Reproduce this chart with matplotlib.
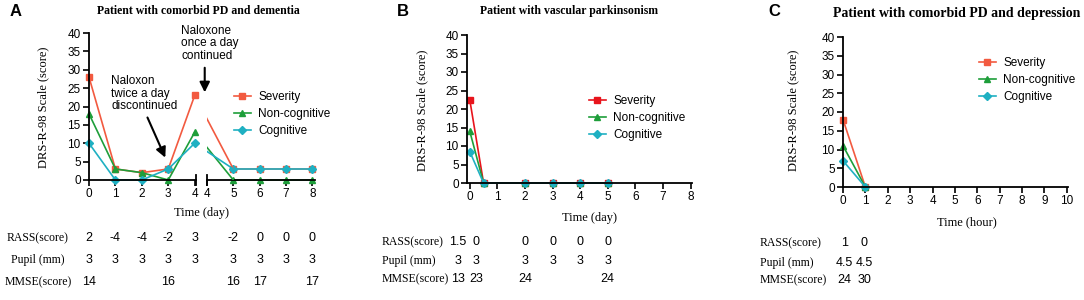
import matplotlib
matplotlib.use('Agg')
import matplotlib.pyplot as plt
import matplotlib.transforms as mtransforms
from matplotlib.patches import ConnectionPatch

# data
days_a = [0, 1, 2, 3, 4, 5, 6, 7, 8]
sev_a = [28, 3, 2, 3, 23, 3, 3, 3, 3]
noncog_a = [18, 3, 2, 0, 13, 0, 0, 0, 0]
cog_a = [10, 0, 0, 3, 10, 3, 3, 3, 3]
rass_a = ['2', '-4', '-4', '-2', '3', '-2', '0', '0', '0']
pupil_a = ['3', '3', '3', '3', '3', '3', '3', '3', '3']
mmse_a = ['14', '', '', '16', '', '16', '17', '', '17']

days_b = [0, 0.5, 2, 3, 4, 5]
sev_b = [22.5, 0, 0, 0, 0, 0]
noncog_b = [14, 0, 0, 0, 0, 0]
cog_b = [8.5, 0, 0, 0, 0, 0]
rass_b = ['1.5', '0', '0', '0', '0', '0']
pupil_b = ['3', '3', '3', '3', '3', '3']
mmse_b = ['13', '23', '24', '', '', '24']

hours_c = [0, 1]
sev_c = [18, 0]
noncog_c = [11, 0]
cog_c = [7, 0]
rass_c = ['1', '0']
pupil_c = ['4.5', '4.5']
mmse_c = ['24', '30']

row_labels = ['RASS(score)', 'Pupil (mm)', 'MMSE(score)']

W, H = 1084, 300
fig = plt.figure(figsize=(W / 100, H / 100), dpi=100)

SANS = 'Liberation Sans'
SERIF = 'Liberation Serif'
RED = '#F25A40'
RED_B = '#E8141C'
GREEN = '#1E9E3A'
TEAL = '#1FB0C2'


def add_ax(l, r, t, b):
    return fig.add_axes([l / W, 1 - b / H, (r - l) / W, (b - t) / H])


def style(ax, left=True):
    for s in ['top', 'right']:
        ax.spines[s].set_visible(False)
    ax.spines['left'].set_visible(left)
    ax.spines['left'].set_linewidth(1.3)
    ax.spines['bottom'].set_linewidth(1.3)
    ax.tick_params(direction='out', length=4, width=1.2, pad=2,
                   labelsize=8.5, labelfontfamily=SANS)
    ax.set_ylim(0, 40)
    ax.set_yticks(range(0, 41, 5))
    if not left:
        ax.set_yticks([])
    ax.patch.set_alpha(0)


def plot3(ax, x, s, n, c, sev_color=RED):
    ax.plot(x, s, color=sev_color, marker='s', ms=5, lw=1.2, clip_on=False,
            label='Severity')
    ax.plot(x, n, color=GREEN, marker='^', ms=5, lw=1.2, clip_on=False,
            label='Non-cognitive')
    ax.plot(x, c, color=TEAL, marker='D', ms=4.5, lw=1.2, clip_on=False,
            label='Cognitive')


def ftext(x, y, s, **kw):
    fig.text(x / W, 1 - y / H, s, **kw)


def table(ax, xs, y, vals):
    tr = mtransforms.blended_transform_factory(ax.transData, fig.transFigure)
    for xv, v in zip(xs, vals):
        if v:
            ax.text(xv, 1 - y / H, v, transform=tr, ha='center', va='center',
                    fontsize=9, family=SANS)


def legend(ax, x, y, handles=None):
    args = ax.get_legend_handles_labels() if handles is None else handles
    ax.legend(*args, loc='center left', frameon=False,
              bbox_to_anchor=(x / W, 1 - y / H), bbox_transform=fig.transFigure,
              prop={'family': SANS, 'size': 8.5}, handlelength=1.5,
              labelspacing=0.45, handletextpad=0.6)


# ---------------- panel A (broken x axis)
a1 = add_ax(89, 196, 33, 180)
a2 = add_ax(207, 315, 33, 180)
style(a1)
style(a2, left=False)
plot3(a1, days_a[:5], sev_a[:5], noncog_a[:5], cog_a[:5])
plot3(a2, days_a[5:], sev_a[5:], noncog_a[5:], cog_a[5:])
a1.set_xlim(0, 4.05)
a1.set_xticks(range(0, 5))
a2.set_xlim(4, 8.1)
a2.set_xticks(range(4, 9))
# lines across the axis break, hidden inside the gap
for ys, col in [(sev_a, RED), (noncog_a, GREEN), (cog_a, TEAL)]:
    con = ConnectionPatch(xyA=(days_a[4], ys[4]), coordsA=a1.transData,
                          xyB=(days_a[5], ys[5]), coordsB=a2.transData,
                          color=col, lw=1.2)
    fig.add_artist(con)
    con.set_clip_box(a2.bbox)
    con.set_clip_on(True)
for ax, xx in [(a1, 1), (a2, 0)]:
    ax.plot([xx, xx], [-0.035, 0.035], transform=ax.transAxes, color='black',
            lw=1.3, clip_on=False)
legend(a2, 223, 114, a1.get_legend_handles_labels())

a1.text(0.84, 28.5, 'Naloxon\ntwice a day\ndiscontinued', ha='left', va='top',
        fontsize=8.5, family=SANS, linespacing=1.05)
a1.annotate('', xy=(2.93, 5.4), xytext=(2.17, 17.7),
            arrowprops=dict(arrowstyle='-|>', color='black', lw=1.5,
                            mutation_scale=15))
a1.text(3.5, 42.2, 'Naloxone\nonce a day\ncontinued', ha='left', va='top',
        fontsize=8.5, family=SANS, linespacing=1.05)
a1.annotate('', xy=(4.38, 23.1), xytext=(4.38, 31.3), annotation_clip=False,
            arrowprops=dict(arrowstyle='-|>', color='black', lw=1.5,
                            mutation_scale=15))

ftext(16, 12, 'A', fontsize=12, fontweight='bold', family=SANS, ha='center', va='center')
ftext(198, 11, 'Patient with comorbid PD and dementia', fontsize=8.5,
      fontweight='bold', family=SERIF, ha='center', va='center')
ftext(43, 107, 'DRS-R-98 Scale (score)', fontsize=9, family=SERIF, rotation=90,
      ha='center', va='center')
ftext(202, 213, 'Time (day)', fontsize=9, family=SERIF, ha='center', va='center')
for lab, y in zip(row_labels, [238, 260, 282]):
    ftext(38, y, lab, fontsize=8.5, family=SERIF, ha='center', va='center')
for vals, y in zip([rass_a, pupil_a, mmse_a], [238, 260, 282]):
    table(a1, days_a[:5], y, vals[:5])
    table(a2, days_a[5:], y, vals[5:])

# ---------------- panel B
b = add_ax(467, 692, 35, 183)
style(b)
plot3(b, days_b, sev_b, noncog_b, cog_b, sev_color=RED_B)
b.set_xlim(-0.1, 8.05)
b.set_xticks(range(0, 9))
legend(b, 578, 118)
ftext(403, 12, 'B', fontsize=12, fontweight='bold', family=SANS, ha='center', va='center')
ftext(569, 11, 'Patient with vascular parkinsonism', fontsize=8.5,
      fontweight='bold', family=SERIF, ha='center', va='center')
ftext(422, 110, 'DRS-R-98 Scale (score)', fontsize=9, family=SERIF, rotation=90,
      ha='center', va='center')
ftext(590, 218, 'Time (day)', fontsize=9, family=SERIF, ha='center', va='center')
cols_b = [-0.42, 0.22, 2, 3, 4, 5]
for lab, y in zip(row_labels, [242, 261, 279]):
    ftext(382, y, lab, fontsize=8.5, family=SERIF, ha='left', va='center')
for vals, y in zip([rass_b, pupil_b, mmse_b], [242, 261, 279]):
    table(b, cols_b, y, vals)

# ---------------- panel C
c = add_ax(843, 1068, 37, 187)
style(c)
plot3(c, hours_c, sev_c, noncog_c, cog_c)
c.set_xlim(0, 10.05)
c.set_xticks(range(0, 11))
legend(c, 968, 80)
ftext(774, 12, 'C', fontsize=12, fontweight='bold', family=SANS, ha='center', va='center')
ftext(957, 13, 'Patient with comorbid PD and depression', fontsize=10,
      fontweight='bold', family=SERIF, ha='center', va='center')
ftext(793, 110, 'DRS-R-98 Scale (score)', fontsize=9, family=SERIF, rotation=90,
      ha='center', va='center')
ftext(967, 222, 'Time (hour)', fontsize=9, family=SERIF, ha='center', va='center')
cols_c = [0.05, 0.95]
for lab, y in zip(row_labels, [243, 263, 280]):
    ftext(760, y, lab, fontsize=8.5, family=SERIF, ha='left', va='center')
for vals, y in zip([rass_c, pupil_c, mmse_c], [243, 263, 280]):
    table(c, cols_c, y, vals)

fig.savefig('out.png', dpi=100)
